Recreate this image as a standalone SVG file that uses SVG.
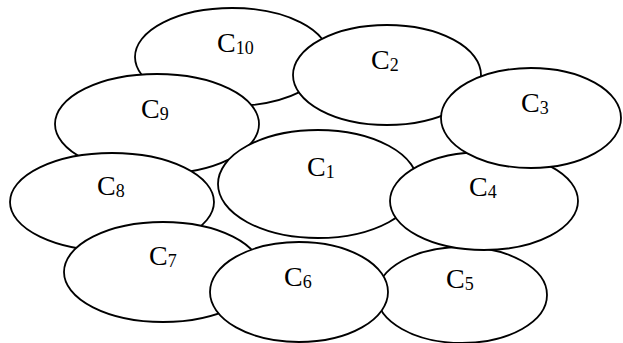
<svg xmlns="http://www.w3.org/2000/svg" width="623" height="343" viewBox="0 0 623 343">
<style>
ellipse{fill:#fff;stroke:#000;stroke-width:1.8}
text{font-family:"Liberation Serif","Times New Roman",serif;font-size:28px;fill:#000}
.s{font-size:18px}
</style>
<rect width="623" height="343" fill="#fff"/>
<g id="connectors"></g>
<g id="C10"><ellipse cx="232" cy="57" rx="97" ry="49"/><text x="217" y="52">C<tspan class="s" dy="2">10</tspan></text></g>
<g id="C9"><ellipse cx="157" cy="124" rx="102" ry="50"/><text x="141" y="118">C<tspan class="s" dy="2">9</tspan></text></g>
<g id="C2"><ellipse cx="387" cy="75" rx="94" ry="50"/><text x="371" y="69">C<tspan class="s" dy="2">2</tspan></text></g>
<g id="C1"><ellipse cx="318" cy="184" rx="100" ry="54"/><text x="307" y="176">C<tspan class="s" dy="2">1</tspan></text></g>
<g id="C5"><ellipse cx="462" cy="295" rx="85" ry="48"/><text x="446" y="288">C<tspan class="s" dy="2">5</tspan></text></g>
<g id="C4"><ellipse cx="484" cy="201" rx="94" ry="49"/><text x="469" y="196">C<tspan class="s" dy="2">4</tspan></text></g>
<g id="C3"><ellipse cx="531" cy="118" rx="90" ry="50"/><text x="521" y="112">C<tspan class="s" dy="2">3</tspan></text></g>
<g id="C8"><ellipse cx="112" cy="202" rx="102" ry="49"/><text x="97" y="195">C<tspan class="s" dy="2">8</tspan></text></g>
<g id="C7"><ellipse cx="163" cy="272" rx="99" ry="50"/><text x="149" y="265">C<tspan class="s" dy="2">7</tspan></text></g>
<g id="C6"><ellipse cx="299" cy="292" rx="89" ry="50"/><text x="284" y="286">C<tspan class="s" dy="2">6</tspan></text></g>
</svg>
